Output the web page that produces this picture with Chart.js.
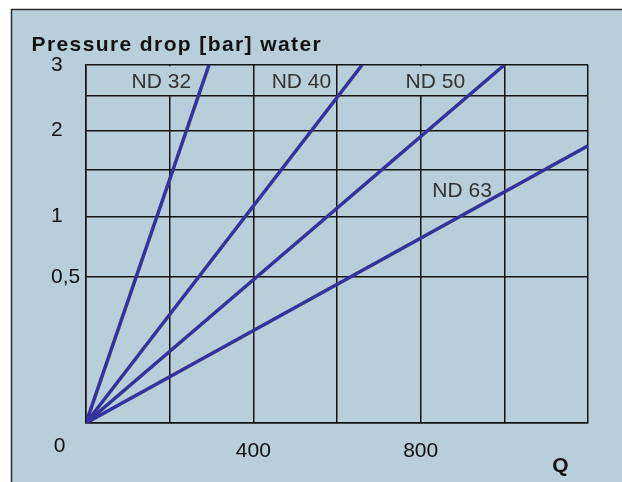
<!DOCTYPE html>
<html><head><meta charset="utf-8">
<script src="https://cdn.jsdelivr.net/npm/chart.js@4.4.1/dist/chart.umd.min.js"></script>
<style>html,body{margin:0;padding:0;background:#fff;}canvas{display:block;}</style>
</head><body>
<canvas id="c" width="622" height="482"></canvas>
<script>
// ---- data (Q flow, pressure drop in bar) ----
const nd32Q = [0, 294];  const nd32P = [0, 3];
const nd40Q = [0, 660];  const nd40P = [0, 3];
const nd50Q = [0, 1000]; const nd50P = [0, 3];
const nd63Q = [0, 1200]; const nd63P = [0, 1.8];
const seriesNames = ['ND 32', 'ND 40', 'ND 50', 'ND 63'];

const xTickValues = [0, 200, 400, 600, 800, 1000, 1200];
const xTickLabels = ['', '', '400', '', '800', '', ''];
const yTickValues = [0, 0.5, 1, 1.5, 2, 2.5, 3];
const yTickLabels = ['', '0,5', '1', '', '2', '', '3'];

// series name labels anchored in data units (Q, bar)
const labelQ = [180, 515, 835, 899];
const labelP = [2.62, 2.62, 2.62, 1.196];

const titleText = 'Pressure drop [bar] water';
const xAxisText = 'Q';
const originText = '0';

// ---- style ----
const FAMILY = '"Liberation Sans", Arial, Helvetica, sans-serif';
const BG = '#b8ced8';
const LINE = '#33339b';
const GRID = '#141414';

// square-root scale: dp ~ Q^2 curves become straight lines
class SqrtScale extends Chart.LinearScale {
  getPixelForValue(v) {
    const t = Math.sqrt(Math.max(0, v - this.min) / (this.max - this.min));
    return this.getPixelForDecimal(t);
  }
  getValueForPixel(p) {
    const t = this.getDecimalForPixel(p);
    return this.min + t * t * (this.max - this.min);
  }
}
SqrtScale.id = 'sqrt';
SqrtScale.defaults = Chart.LinearScale.defaults;
Chart.register(SqrtScale);

Chart.defaults.font.family = FAMILY;

const pts = (qs, ps) => qs.map((q, i) => ({x: q, y: ps[i]}));
const mk = (name, qs, ps) => ({
  label: name, data: pts(qs, ps), showLine: true, borderColor: LINE,
  backgroundColor: LINE, borderWidth: 3.5, pointRadius: 0, fill: false
});

const deco = {
  id: 'deco',
  beforeDraw(chart) {
    const ctx = chart.ctx;
    ctx.save();
    ctx.fillStyle = '#fff';
    ctx.fillRect(0, 0, chart.width, chart.height);
    ctx.fillStyle = BG;
    ctx.fillRect(11, 9, chart.width - 11, chart.height - 9);
    ctx.strokeStyle = '#2a2a2a';
    ctx.lineWidth = 1.5;
    ctx.beginPath();
    ctx.moveTo(11.5, chart.height);
    ctx.lineTo(11.5, 9.5);
    ctx.lineTo(chart.width, 9.5);
    ctx.stroke();
    ctx.restore();
  },
  beforeDatasetsDraw(chart) {
    const {ctx, scales: {x, y}} = chart;
    ctx.save();
    ctx.font = '21px ' + FAMILY;
    seriesNames.forEach((t, i) => {
      const px = x.getPixelForValue(labelQ[i]);
      const py = y.getPixelForValue(labelP[i]);
      const w = ctx.measureText(t).width;
      let lo = 0, hi = yTickValues.length - 1;
      for (let k = 0; k < yTickValues.length - 1; k++) {
        if (labelP[i] >= yTickValues[k] && labelP[i] <= yTickValues[k + 1]) { lo = k; hi = k + 1; }
      }
      const top = y.getPixelForValue(yTickValues[hi]) + 1.2;
      const bot = y.getPixelForValue(yTickValues[lo]) - 1.2;
      ctx.fillStyle = BG;
      ctx.fillRect(px - w / 2 - 2, top, w + 4, bot - top);
      ctx.fillStyle = '#333';
      ctx.textAlign = 'center';
      ctx.textBaseline = 'alphabetic';
      ctx.fillText(t, px, py);
    });
    ctx.restore();
  },
  afterDraw(chart) {
    const ctx = chart.ctx;
    ctx.save();
    ctx.fillStyle = '#111';
    ctx.textBaseline = 'alphabetic';
    ctx.font = 'bold 21px ' + FAMILY;
    ctx.textAlign = 'left';
    try { ctx.letterSpacing = '1.4px'; } catch (e) {}
    ctx.fillText(titleText, 31.5, 51);
    try { ctx.letterSpacing = '0px'; } catch (e) {}
    ctx.textAlign = 'center';
    ctx.fillText(xAxisText, 560.5, 472);
    ctx.font = '21px ' + FAMILY;
    ctx.fillText(originText, 59.5, 452);
    ctx.restore();
  }
};

new Chart(document.getElementById('c'), {
  type: 'scatter',
  data: {
    datasets: [
      mk(seriesNames[0], nd32Q, nd32P),
      mk(seriesNames[1], nd40Q, nd40P),
      mk(seriesNames[2], nd50Q, nd50P),
      mk(seriesNames[3], nd63Q, nd63P)
    ]
  },
  options: {
    responsive: false, animation: false, devicePixelRatio: 1,
    layout: {padding: {left: 51, top: 65, right: 34, bottom: 0}},
    plugins: {legend: {display: false}, tooltip: {enabled: false}},
    scales: {
      x: {
        type: 'linear', min: 0, max: 1200,
        afterBuildTicks: s => { s.ticks = xTickValues.map(v => ({value: v})); },
        afterFit: s => { s.height = 59; },
        grid: {color: GRID, lineWidth: 1.5, drawTicks: false},
        border: {color: GRID, width: 1.5},
        ticks: {
          padding: 16, color: '#111', font: {size: 21}, maxRotation: 0, autoSkip: false,
          callback: v => { const k = xTickValues.indexOf(v); return k >= 0 ? xTickLabels[k] : ''; }
        }
      },
      y: {
        type: 'sqrt', min: 0, max: 3,
        afterBuildTicks: s => { s.ticks = yTickValues.map(v => ({value: v})); },
        afterFit: s => { s.width = 35; },
        grid: {color: GRID, lineWidth: 1.5, drawTicks: false},
        border: {color: GRID, width: 1.5},
        ticks: {
          crossAlign: 'far', padding: 0, color: '#111', font: {size: 21}, autoSkip: false,
          callback: v => { const k = yTickValues.indexOf(v); return k >= 0 ? yTickLabels[k] : ''; }
        }
      }
    }
  },
  plugins: [deco]
});
</script>
</body></html>
